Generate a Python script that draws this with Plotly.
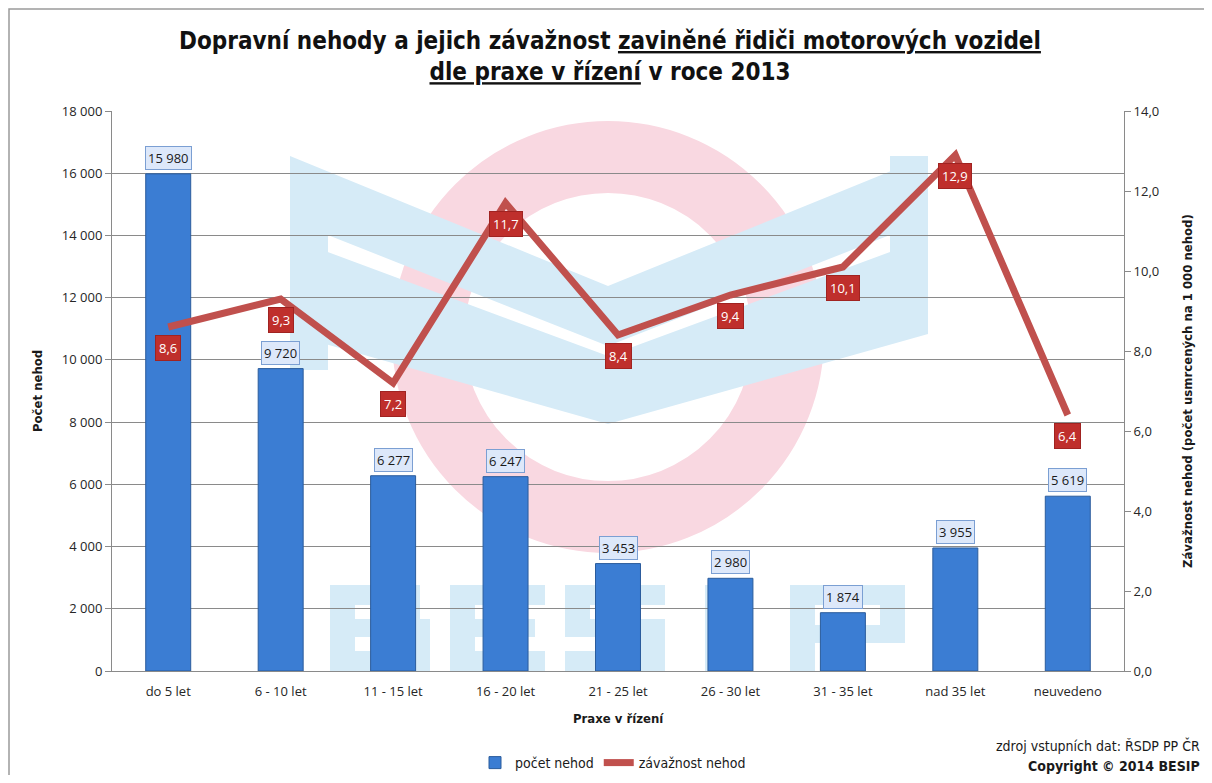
import plotly.graph_objects as go

categories = ["do 5 let", "6 - 10 let", "11 - 15 let", "16 - 20 let", "21 - 25 let",
              "26 - 30 let", "31 - 35 let", "nad 35 let", "neuvedeno"]
pocet_nehod = [15980, 9720, 6277, 6247, 3453, 2980, 1874, 3955, 5619]
zavaznost = [8.6, 9.3, 7.2, 11.7, 8.4, 9.4, 10.1, 12.9, 6.4]
left_ticks = [0, 2000, 4000, 6000, 8000, 10000, 12000, 14000, 16000, 18000]
right_ticks = [0, 2, 4, 6, 8, 10, 12, 14]

NARROW = "Liberation Sans Narrow, DejaVu Sans Condensed, Roboto Condensed, Arial Narrow, sans-serif"
TICKF = "Open Sans, DejaVu Sans, sans-serif"

# the page adds an 8px body margin; figure sized so it fits the 1212x783 window
OFF = 8
W, H = 1196, 767
ML, MT = 112 - OFF, 111 - OFF
MR = W - (1124 - OFF)
MB = H - (671 - OFF)
PW, PH = W - ML - MR, H - MT - MB


def px(x):
    """screen x pixel -> paper coordinate"""
    return (x - OFF - ML) / PW


def py(y):
    """screen y pixel -> paper coordinate"""
    return (H - MB - (y - OFF)) / PH


fig = go.Figure()

fig.add_trace(go.Bar(
    x=categories, y=pocet_nehod, name="počet nehod",
    marker=dict(color="#3b7dd3", line=dict(color="#2b5c9c", width=1)),
    yaxis="y", hoverinfo="y",
))
fig.add_trace(go.Scatter(
    x=categories, y=zavaznost, name="závažnost nehod", mode="lines",
    line=dict(color="#c0504d", width=7), yaxis="y2",
))

annotations = []
for c, v in zip(categories, pocet_nehod):
    annotations.append(dict(
        x=c, y=v, xref="x", yref="y", text=f"{v:,}".replace(",", " "),
        showarrow=False, yshift=16, bgcolor="#dde8fa", bordercolor="#7b9fd3",
        borderwidth=1, borderpad=2, font=dict(family=TICKF, size=13, color="#1a1a1a"),
    ))
for c, v in zip(categories, zavaznost):
    annotations.append(dict(
        x=c, y=v, xref="x", yref="y2", text=f"{v:.1f}".replace(".", ","),
        showarrow=False, yshift=-21, bgcolor="#bf2f2c", bordercolor="#a02321",
        borderwidth=1, borderpad=3, font=dict(family=TICKF, size=13, color="white"),
    ))

annotations += [
    dict(x=px(37), y=py(391), xref="paper", yref="paper", xanchor="center", yanchor="middle",
         text="<b>Počet nehod</b>", textangle=-90, showarrow=False,
         font=dict(family=NARROW, size=13, color="#1a1a1a")),
    dict(x=px(1187), y=py(391), xref="paper", yref="paper", xanchor="center", yanchor="middle",
         text="<b>Závažnost nehod (počet usmrcených na 1 000 nehod)</b>",
         textangle=-90, showarrow=False, font=dict(family=NARROW, size=13, color="#1a1a1a")),
    dict(x=px(618), y=py(718), xref="paper", yref="paper", xanchor="center", yanchor="middle",
         text="<b>Praxe v řízení</b>", showarrow=False,
         font=dict(family=NARROW, size=13, color="#1a1a1a")),
    dict(x=px(1202), y=py(745), xref="paper", yref="paper", xanchor="right", yanchor="middle",
         text="zdroj vstupních dat: ŘSDP PP ČR",
         showarrow=False, font=dict(family=NARROW, size=14, color="#1a1a1a")),
    dict(x=px(1202), y=py(766), xref="paper", yref="paper", xanchor="right", yanchor="middle",
         text="<b>Copyright © 2014 BESIP</b>",
         showarrow=False, font=dict(family=NARROW, size=14, color="#1a1a1a")),
]

WM_BLUE = "#d6ebf7"
WM_PINK = "#f9d8e1"


def rect(x0, x1, y0, y1, color=WM_BLUE):
    return dict(type="rect", xref="paper", yref="paper", layer="below", line=dict(width=0),
                fillcolor=color, x0=px(x0), x1=px(x1), y0=py(y1), y1=py(y0))


def poly(points, color=WM_BLUE):
    d = "M " + " L ".join(f"{px(x)},{py(y)}" for x, y in points) + " Z"
    return dict(type="path", xref="paper", yref="paper", layer="below", line=dict(width=0),
                fillcolor=color, path=d)


shapes = [
    # outer border
    dict(type="rect", xref="paper", yref="paper", x0=px(9), x1=px(1240), y0=py(820), y1=py(9),
         line=dict(color="#9a9a9a", width=1.5), layer="below"),
    # watermark ring
    dict(type="circle", xref="paper", yref="paper", x0=px(428), x1=px(788), y0=py(517), y1=py(157),
         line=dict(color=WM_PINK, width=72), layer="below"),
    # watermark chevrons
    poly([(290, 156), (608, 286), (928, 156), (928, 220), (608, 346), (290, 220)]),
    poly([(290, 238), (608, 356), (928, 238), (928, 334), (608, 424), (290, 334)]),
    rect(290, 328, 220, 370),
    rect(890, 928, 156, 334),
    # watermark letters B E S I P
    rect(330, 355, 585, 671), rect(330, 418, 585, 605), rect(330, 424, 619, 637),
    rect(330, 430, 651, 671), rect(398, 420, 585, 637), rect(404, 430, 619, 671),
    rect(450, 475, 585, 671), rect(450, 545, 585, 605), rect(450, 535, 619, 637),
    rect(450, 545, 651, 671),
    rect(565, 665, 585, 605), rect(565, 590, 585, 637), rect(565, 665, 619, 637),
    rect(640, 665, 619, 671), rect(565, 665, 651, 671),
    rect(705, 745, 585, 671),
    rect(790, 815, 585, 671), rect(790, 900, 585, 605), rect(790, 905, 625, 643),
    rect(880, 905, 585, 643),
]

fig.update_layout(
    width=W, height=H,
    margin=dict(l=ML, r=MR, t=MT, b=MB, autoexpand=False),
    paper_bgcolor="white", plot_bgcolor="rgba(0,0,0,0)",
    separators=", ",
    title=dict(
        text=("<b>Dopravní nehody a jejich závažnost <u>zaviněné řidiči motorových vozidel</u></b>"
              "<br><b><u>dle praxe v řízení</u> v roce 2013</b>"),
        x=(610 - OFF) / W, xanchor="center", y=1 - (49 - OFF) / H, yanchor="top",
        font=dict(family=NARROW, size=24, color="#111111"),
    ),
    bargap=0.6,
    xaxis=dict(
        showline=True, linecolor="#8a8a8a", linewidth=1, ticks="",
        ticklabelstandoff=8,
        tickfont=dict(family=TICKF, size=13, color="#262626"),
        showgrid=False,
    ),
    yaxis=dict(
        range=[0, 18000], tickvals=left_ticks, tickformat=",d",
        showline=True, linecolor="#8a8a8a", linewidth=1,
        ticks="outside", ticklen=6, tickcolor="#8a8a8a",
        gridcolor="#8a8a8a", gridwidth=1, zeroline=False,
        tickfont=dict(family=TICKF, size=13, color="#262626"),
    ),
    yaxis2=dict(
        range=[0, 14], tickvals=right_ticks, tickformat=".1f",
        overlaying="y", side="right",
        showline=True, linecolor="#8a8a8a", linewidth=1,
        ticks="outside", ticklen=6, tickcolor="#8a8a8a",
        showgrid=False, zeroline=False,
        tickfont=dict(family=TICKF, size=13, color="#262626"),
    ),
    legend=dict(
        orientation="h", xref="container", yref="container",
        x=(613 - OFF) / W, xanchor="center", y=1 - (763 - OFF) / H, yanchor="middle",
        font=dict(family=NARROW, size=14, color="#1a1a1a"),
        bgcolor="rgba(0,0,0,0)",
    ),
    annotations=annotations,
    shapes=shapes,
    showlegend=True,
)

fig.write_html("out.html")
